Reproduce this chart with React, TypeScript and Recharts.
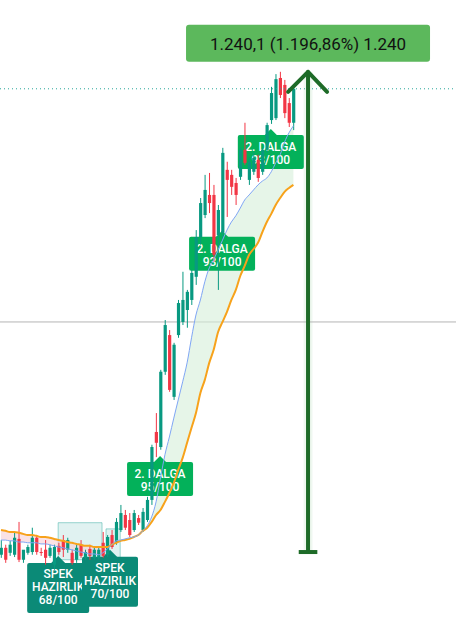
import React from 'react';
import {
  ComposedChart,
  Bar,
  Line,
  Area,
  XAxis,
  YAxis,
  ReferenceLine,
  ReferenceArea,
  ReferenceDot,
} from 'recharts';

// OHLC, one entry per candle
const opens = [
  94, 112, 99, 94, 135, 81, 99, 101, 138, 101, 107, 91, 68, 117, 132, 107, 99, 81, 120, 86,
  109, 86, 86, 125, 94, 145, 125, 158, 197, 184, 158, 189, 158, 184, 236, 412, 373, 568, 663, 503,
  663, 697, 728, 754, 814, 917, 974, 1026, 1026, 922, 928, 1091, 1078, 1057, 1073, 1143, 1065, 1086, 1117, 1086,
  1143, 1220, 1225, 1329, 1311, 1264, 1213,
];
const highs = [
  132, 120, 130, 151, 179, 99, 120, 164, 145, 112, 132, 120, 120, 125, 145, 138, 107, 120, 132, 107,
  120, 112, 114, 153, 145, 158, 189, 223, 210, 202, 210, 197, 215, 244, 379, 461, 573, 702, 676, 643,
  754, 827, 780, 832, 935, 1018, 1078, 1083, 1052, 1000, 1148, 1112, 1091, 1070, 1148, 1213, 1122, 1137, 1130, 1148,
  1213, 1306, 1339, 1345, 1324, 1277, 1308,
];
const lows = [
  86, 73, 91, 88, 75, 73, 94, 94, 94, 91, 68, 86, 55, 94, 88, 99, 68, 73, 86, 81,
  81, 81, 81, 86, 88, 109, 120, 153, 158, 140, 153, 171, 153, 179, 223, 347, 366, 560, 516, 495,
  656, 689, 682, 741, 793, 897, 966, 979, 853, 780, 909, 969, 1026, 1000, 1065, 1104, 1052, 1078, 1060, 1078,
  1135, 1210, 1220, 1277, 1225, 1202, 1194,
];
const closes = [
  112, 81, 120, 138, 81, 107, 114, 138, 101, 99, 86, 112, 114, 101, 107, 132, 73, 112, 91, 101,
  91, 107, 107, 91, 140, 114, 179, 202, 164, 145, 202, 177, 205, 236, 373, 384, 568, 689, 521, 638,
  746, 754, 775, 824, 917, 1005, 1039, 1005, 871, 987, 1135, 1065, 1047, 1026, 1143, 1109, 1112, 1122, 1070, 1143,
  1207, 1290, 1326, 1285, 1238, 1213, 1301,
];
// fast (blue) and slow (orange) moving averages
const fastMA = [
  132, 132, 130, 130, 127, 127, 125, 125, 125, 122, 122, 120, 117, 114, 112, 109, 107, 104, 101, 99,
  96, 96, 94, 99, 109, 120, 130, 132, 135, 138, 140, 145, 156, 169, 192, 231, 293, 353, 399, 448,
  495, 542, 591, 656, 715, 754, 801, 837, 858, 884, 909, 935, 956, 972, 992, 1013, 1026, 1039, 1052, 1062,
  1070, 1086, 1109, 1130, 1163, 1187, 1205,
];
const slowMA = [
  158, 156, 153, 153, 151, 148, 145, 145, 143, 140, 140, 138, 135, 132, 130, 127, 125, 122, 120, 117,
  117, 114, 114, 114, 114, 120, 125, 130, 132, 135, 140, 145, 156, 164, 179, 197, 210, 231, 254, 280,
  314, 345, 384, 423, 461, 513, 547, 591, 625, 671, 697, 723, 754, 780, 816, 842, 871, 886, 902, 930,
  956, 977, 1000, 1018, 1034, 1044, 1052,
];

const waveLabels = [
  { x: 35.9, y: 350, title: '2. DALGA', score: '95/100' },
  { x: 49.9, y: 933, title: '2. DALGA', score: '93/100' },
  { x: 60.9, y: 1197, title: '2. DALGA', score: '93/100' },
];
const prepLabels = [
  { x: 12.9, y: 91, score: '68/100', w: 62 },
  { x: 24.6, y: 107, score: '70/100', w: 56 },
];

const measureFrom = 101;
const measureTo = 1345;
const measureX = 69.3;
const measureText = '1.240,1 (1.196,86%) 1.240';
const lastPrice = 1301;
const crossPrice = 697;

const UP = '#089981';
const DOWN = '#f23645';
const WAVE = '#03b15a';
const PREP = '#0b8a77';
const ARROW = '#1e6b28';
const FONT = 'Roboto, "Noto Sans", sans-serif';

const rows = opens.map((open, i) => ({
  i,
  open,
  high: highs[i],
  low: lows[i],
  close: closes[i],
  fast: fastMA[i],
  slow: slowMA[i],
}));

const Candle = (props: any) => {
  const { x, y, width, height, payload } = props;
  if (!payload || height == null) return <g />;
  const { open, close, high, low } = payload;
  const cx = x + width / 2;
  const ratio = high === low ? 0 : height / (high - low);
  const yo = y + (high - open) * ratio;
  const yc = y + (high - close) * ratio;
  const color = close >= open ? UP : DOWN;
  const top = Math.min(yo, yc);
  const h = Math.max(1, Math.abs(yo - yc));
  return (
    <g>
      <line x1={cx} x2={cx} y1={y} y2={y + height} stroke={color} strokeWidth={1} />
      <rect x={cx - 1.6} y={top} width={3.2} height={h} fill={color} />
    </g>
  );
};

const WaveLabel = ({ cx, cy, title, score }: any) => (
  <g>
    <path d={`M${cx},${cy} L${cx + 7},${cy + 7} L${cx - 7},${cy + 7} Z`} fill={WAVE} />
    <rect x={cx - 33} y={cy + 6} width={66} height={34} rx={2} fill={WAVE} />
    <text x={cx} y={cy + 18} textAnchor="middle" dominantBaseline="central" fill="#fff" fontSize={12} fontFamily={FONT} fontWeight={500}>
      {title}
    </text>
    <text x={cx} y={cy + 31} textAnchor="middle" dominantBaseline="central" fill="#fff" fontSize={12} fontFamily={FONT} fontWeight={500}>
      {score}
    </text>
  </g>
);

const PrepLabel = ({ cx, cy, score, w }: any) => (
  <g>
    <path d={`M${cx},${cy} L${cx + 8},${cy + 8} L${cx - 8},${cy + 8} Z`} fill={PREP} />
    <rect x={cx - w / 2} y={cy + 7} width={w} height={50} rx={2} fill={PREP} />
    {['SPEK', 'HAZIRLIK', score].map((t, k) => (
      <text key={k} x={cx} y={cy + 18 + k * 13} textAnchor="middle" dominantBaseline="central" fill="#fff" fontSize={12} fontFamily={FONT} fontWeight={500}>
        {t}
      </text>
    ))}
  </g>
);

const MeasureLabel = ({ cx, cy }: any) => (
  <g>
    <rect x={cx - 122} y={cy - 47} width={244} height={37} rx={3} fill="#5cb85c" />
    <text x={cx} y={cy - 28} textAnchor="middle" dominantBaseline="central" fill="#111" fontSize={17} fontFamily={FONT}>
      {measureText}
    </text>
  </g>
);

export default function App() {
  return (
    <div style={{ position: 'fixed', left: 0, top: 0, width: 456, height: 625, background: '#fff' }}>
      <ComposedChart width={456} height={625} data={rows} margin={{ top: 0, right: 0, bottom: 0, left: 0 }}>
        <XAxis type="number" dataKey="i" domain={[-0.23, 102.7]} hide allowDataOverflow />
        <YAxis type="number" domain={[-88, 1531]} hide allowDataOverflow />

        <ReferenceArea x1={12.9} x2={22.8} y1={81} y2={177} fill="#26a69a" fillOpacity={0.14} stroke="#26a69a" strokeOpacity={0.45} zIndex={50} />
        <ReferenceArea x1={23.7} x2={26.9} y1={81} y2={161} fill="#26a69a" fillOpacity={0.14} stroke="#26a69a" strokeOpacity={0.45} zIndex={50} />
        <ReferenceArea x1={68.3} x2={70.3} y1={measureFrom} y2={measureTo} fill="#e8f5e9" fillOpacity={0.7} zIndex={50} />
        <ReferenceLine y={crossPrice} stroke="#b5b5b5" strokeWidth={1} zIndex={60} />

        <Area
          type="monotone"
          dataKey={(d: any) => [d.slow, Math.max(d.slow, d.fast)]}
          stroke="none"
          fill="#d6efd9"
          fillOpacity={0.6}
          dot={false}
          activeDot={false}
          isAnimationActive={false}
        />
        <Area
          type="monotone"
          dataKey={(d: any) => [Math.min(d.slow, d.fast), d.slow]}
          stroke="none"
          fill="#f7cfd4"
          fillOpacity={0.6}
          dot={false}
          activeDot={false}
          isAnimationActive={false}
        />
        <Line type="monotone" dataKey="slow" stroke="#f7a21b" strokeWidth={2} dot={false} activeDot={false} isAnimationActive={false} />
        <Line type="monotone" dataKey="fast" stroke="#7fa6f5" strokeWidth={1} dot={false} activeDot={false} isAnimationActive={false} />

        {waveLabels.map((l, k) => (
          <ReferenceDot
            key={'w' + k}
            x={l.x}
            y={l.y}
            zIndex={250}
            shape={(p: any) => <WaveLabel cx={p.cx} cy={p.cy} title={l.title} score={l.score} />}
          />
        ))}
        {prepLabels.map((l, k) => (
          <ReferenceDot
            key={'p' + k}
            x={l.x}
            y={l.y}
            zIndex={250}
            shape={(p: any) => <PrepLabel cx={p.cx} cy={p.cy} score={l.score} w={l.w} />}
          />
        ))}

        <Bar
          dataKey={(d: any) => [d.low, d.high]}
          barSize={3}
          shape={(p: any) => <Candle {...p} />}
          isAnimationActive={false}
        />

        <ReferenceLine y={lastPrice} stroke="#26a69a" strokeWidth={1} strokeDasharray="1 3" zIndex={700} />
        <ReferenceLine segment={[{ x: measureX, y: measureFrom }, { x: measureX, y: measureTo }]} stroke={ARROW} strokeWidth={4} zIndex={700} />
        <ReferenceLine segment={[{ x: 67.2, y: measureFrom }, { x: 71.4, y: measureFrom }]} stroke={ARROW} strokeWidth={4} zIndex={700} />
        <ReferenceLine segment={[{ x: 64.8, y: 1293 }, { x: measureX, y: measureTo }]} stroke={ARROW} strokeWidth={4} strokeLinecap="round" zIndex={700} />
        <ReferenceLine segment={[{ x: 73.6, y: 1293 }, { x: measureX, y: measureTo }]} stroke={ARROW} strokeWidth={4} strokeLinecap="round" zIndex={700} />
        <ReferenceDot x={measureX} y={measureTo} zIndex={800} shape={(p: any) => <MeasureLabel cx={p.cx} cy={p.cy} />} />
      </ComposedChart>
    </div>
  );
}
